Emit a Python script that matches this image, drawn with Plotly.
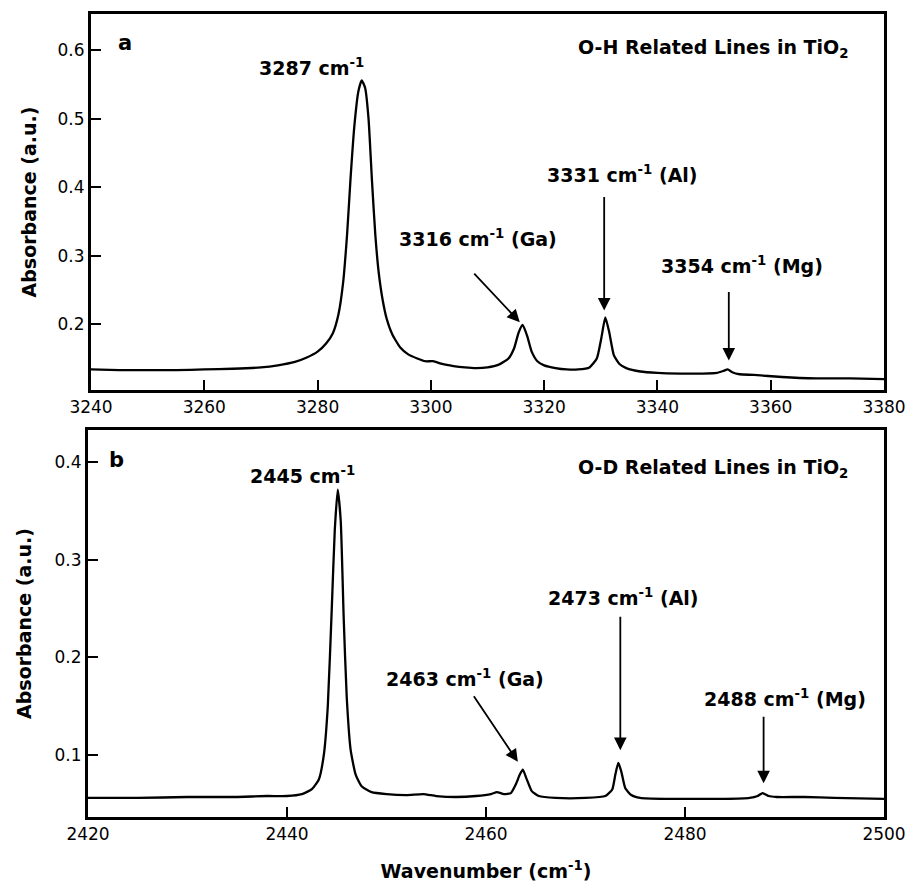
import plotly.graph_objects as go

# ---- data ----
oh_wavenumber = [3240, 3245, 3250, 3255, 3260, 3265, 3270, 3273, 3276, 3278, 3280, 3281.5, 3282.7,
                 3283.7, 3284.5, 3285.2, 3285.8, 3286.5, 3287.2, 3287.8, 3288.4, 3289.0, 3289.6,
                 3290.2, 3290.8, 3291.5, 3292.2, 3293.2, 3294.6, 3296, 3297.6, 3299, 3300.4, 3302,
                 3304, 3306, 3308, 3310, 3312, 3313.7, 3314.7, 3315.5, 3316.2, 3317.0, 3317.8,
                 3318.8, 3320, 3322, 3324, 3326, 3328, 3329.3, 3330.1, 3330.8, 3331.5, 3332.3,
                 3333.3, 3334.5, 3337, 3340, 3344, 3348, 3350.5, 3351.7, 3352.4, 3353.2, 3354.5,
                 3357, 3362, 3368, 3374, 3380]
oh_absorbance = [0.134, 0.133, 0.133, 0.133, 0.134, 0.135, 0.137, 0.140, 0.145, 0.151, 0.160, 0.172, 0.187,
                 0.215, 0.260, 0.330, 0.410, 0.490, 0.540, 0.556, 0.545, 0.500, 0.410,
                 0.330, 0.275, 0.235, 0.208, 0.185, 0.166, 0.156, 0.150, 0.146, 0.146, 0.142,
                 0.139, 0.137, 0.136, 0.137, 0.141, 0.150, 0.165, 0.188, 0.199, 0.183, 0.160,
                 0.146, 0.140, 0.136, 0.134, 0.134, 0.137, 0.150, 0.180, 0.210, 0.188, 0.155,
                 0.142, 0.136, 0.131, 0.129, 0.128, 0.128, 0.129, 0.132, 0.134, 0.130, 0.127,
                 0.126, 0.123, 0.121, 0.121, 0.120]

od_wavenumber = [2420, 2425, 2430, 2435, 2438, 2440, 2441.5, 2442.5, 2443.2, 2443.7, 2444.1, 2444.5,
                 2444.8, 2445.1, 2445.4, 2445.7, 2446.0, 2446.4, 2446.9, 2447.5, 2448.5, 2450, 2452,
                 2453.7, 2455, 2457, 2459, 2460.5, 2461.1, 2461.8, 2462.5, 2463.0, 2463.4, 2463.7,
                 2464.1, 2464.6, 2465.3, 2467, 2470, 2472, 2472.7, 2473.0, 2473.3, 2473.6, 2474.0,
                 2474.6, 2475.5, 2478, 2481, 2484, 2486.5, 2487.3, 2487.8, 2488.4, 2489.2, 2492,
                 2495, 2500]
od_absorbance = [0.056, 0.056, 0.057, 0.057, 0.058, 0.058, 0.060, 0.065, 0.075, 0.100, 0.150, 0.250,
                 0.330, 0.372, 0.340, 0.240, 0.160, 0.105, 0.080, 0.068, 0.062, 0.060, 0.059,
                 0.060, 0.058, 0.057, 0.058, 0.060, 0.062, 0.060, 0.061, 0.070, 0.080, 0.085,
                 0.075, 0.063, 0.058, 0.056, 0.056, 0.058, 0.065, 0.080, 0.092, 0.083, 0.066,
                 0.059, 0.056, 0.055, 0.055, 0.055, 0.056, 0.058, 0.061, 0.058, 0.057, 0.057,
                 0.056, 0.055]

oh_xticks = [3240, 3260, 3280, 3300, 3320, 3340, 3360, 3380]
oh_yticks = [0.2, 0.3, 0.4, 0.5, 0.6]
od_xticks = [2420, 2440, 2460, 2480, 2500]
od_yticks = [0.1, 0.2, 0.3, 0.4]

W, H = 907, 892
FONT = "DejaVu Sans"

fig = go.Figure()
fig.add_trace(go.Scatter(x=oh_wavenumber, y=oh_absorbance, mode="lines",
                         line=dict(color="black", width=2.3, shape="spline", smoothing=0.5),
                         xaxis="x", yaxis="y", showlegend=False, hoverinfo="skip"))
fig.add_trace(go.Scatter(x=od_wavenumber, y=od_absorbance, mode="lines",
                         line=dict(color="black", width=2.3, shape="spline", smoothing=0.5),
                         xaxis="x2", yaxis="y2", showlegend=False, hoverinfo="skip"))

axis_common = dict(showline=True, linecolor="black", linewidth=3, mirror=True,
                   ticks="inside", ticklen=10, tickwidth=2, tickcolor="black",
                   showgrid=False, zeroline=False, automargin=False,
                   tickfont=dict(family=FONT, size=17, color="black"))

fig.update_layout(
    width=W, height=H,
    margin=dict(l=0, r=0, t=0, b=0),
    paper_bgcolor="white", plot_bgcolor="white",
    xaxis=dict(domain=[91 / W, 884 / W], range=[3240, 3380], tickvals=oh_xticks,
               anchor="y", **axis_common),
    yaxis=dict(domain=[1 - 390 / H, 1 - 14 / H], range=[0.104, 0.653], tickvals=oh_yticks,
               tickformat=".1f", anchor="x",
               title=dict(text="<b>Absorbance (a.u.)</b>", font=dict(family=FONT, size=19, color="black"),
                          standoff=16),
               **axis_common),
    xaxis2=dict(domain=[88 / W, 884 / W], range=[2420, 2500], tickvals=od_xticks,
                anchor="y2",
                title=dict(text="<b>Wavenumber (cm<sup>-1</sup>)</b>",
                           font=dict(family=FONT, size=19, color="black"), standoff=22),
                **axis_common),
    yaxis2=dict(domain=[1 - 817 / H, 1 - 430 / H], range=[0.0365, 0.433], tickvals=od_yticks,
                tickformat=".1f", anchor="x2",
                title=dict(text="<b>Absorbance (a.u.)</b>", font=dict(family=FONT, size=19, color="black"),
                           standoff=18),
                **axis_common),
)

bold = dict(family=FONT, size=19, color="black")
texts = [
    ("x", "y", 3246.0, 0.610, "<b>a</b>", "center", dict(family=FONT, size=21, color="black")),
    ("x", "y", 3279.0, 0.575, "<b>3287 cm<sup>-1</sup></b>", "center", bold),
    ("x", "y", 3374.0, 0.603, "<b>O-H Related Lines in TiO<sub>2</sub></b>", "right", bold),
    ("x", "y", 3308.3, 0.326, "<b>3316 cm<sup>-1</sup> (Ga)</b>", "center", bold),
    ("x", "y", 3333.75, 0.420, "<b>3331 cm<sup>-1</sup> (Al)</b>", "center", bold),
    ("x", "y", 3354.9, 0.286, "<b>3354 cm<sup>-1</sup> (Mg)</b>", "center", bold),
    ("x2", "y2", 2422.9, 0.402, "<b>b</b>", "center", dict(family=FONT, size=21, color="black")),
    ("x2", "y2", 2441.6, 0.387, "<b>2445 cm<sup>-1</sup></b>", "center", bold),
    ("x2", "y2", 2496.6, 0.394, "<b>O-D Related Lines in TiO<sub>2</sub></b>", "right", bold),
    ("x2", "y2", 2457.9, 0.179, "<b>2463 cm<sup>-1</sup> (Ga)</b>", "center", bold),
    ("x2", "y2", 2473.8, 0.262, "<b>2473 cm<sup>-1</sup> (Al)</b>", "center", bold),
    ("x2", "y2", 2490.0, 0.158, "<b>2488 cm<sup>-1</sup> (Mg)</b>", "center", bold),
]
for xr, yr, x, y, t, anc, f in texts:
    fig.add_annotation(xref=xr, yref=yr, x=x, y=y, text=t, showarrow=False,
                       xanchor=anc, yanchor="middle", font=f)

arrows = [
    ("x", "y", 3315.7, 0.203, -47, -50),
    ("x", "y", 3330.6, 0.220, 0, -115),
    ("x", "y", 3352.6, 0.147, 0, -70),
    ("x2", "y2", 2463.2, 0.093, -45, -67),
    ("x2", "y2", 2473.5, 0.105, 0, -135),
    ("x2", "y2", 2487.9, 0.071, 0, -68),
]
for xr, yr, x, y, ax, ay in arrows:
    fig.add_annotation(xref=xr, yref=yr, x=x, y=y, ax=ax, ay=ay, text="",
                       showarrow=True, arrowhead=2, arrowsize=1.4, arrowwidth=1.8,
                       arrowcolor="black")

fig.write_html("out.html")
